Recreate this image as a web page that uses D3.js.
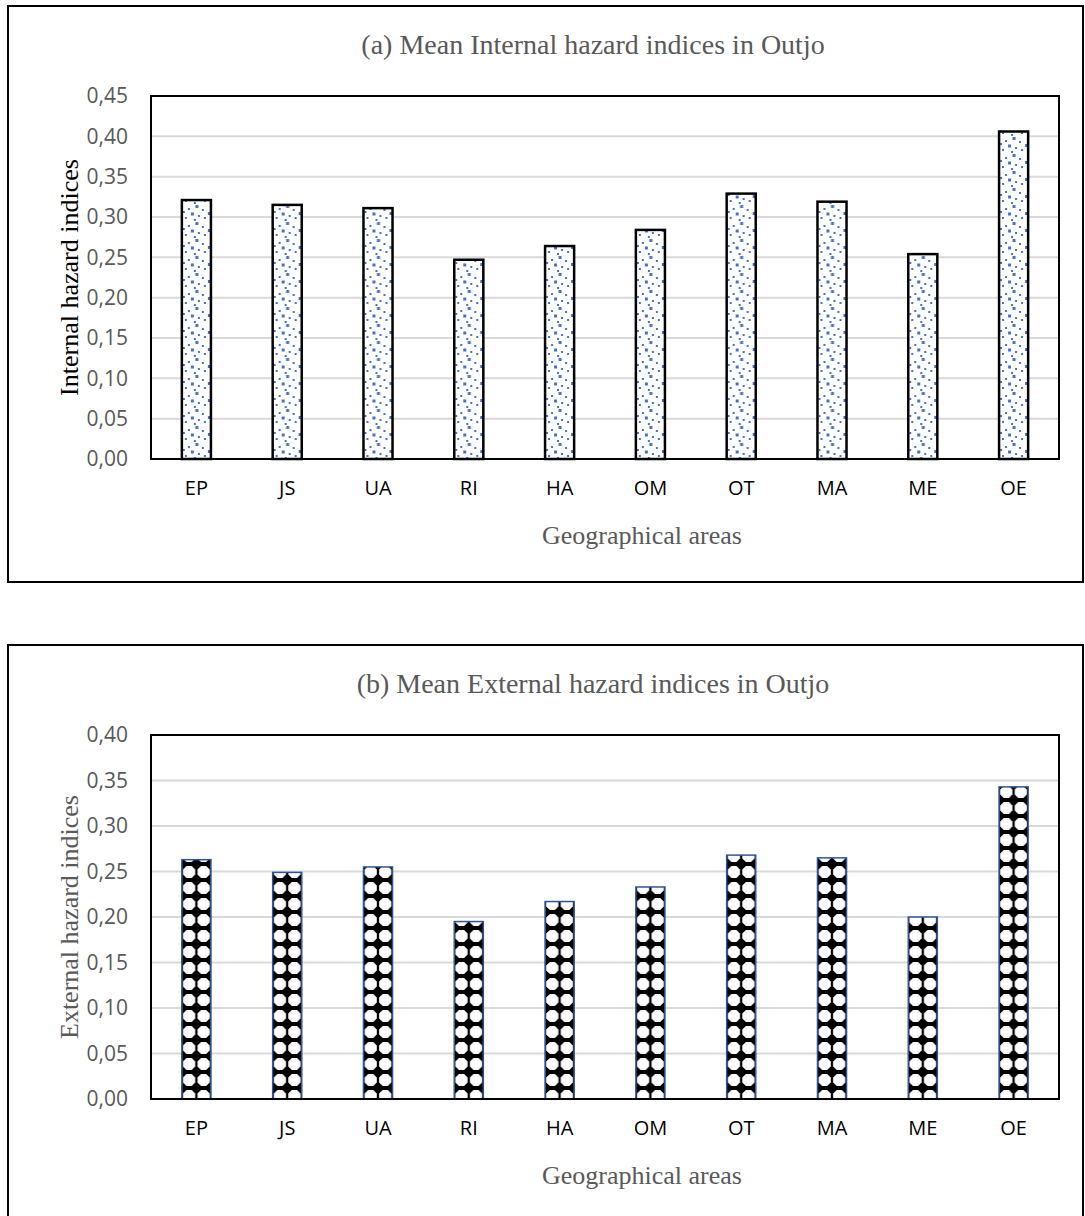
<!DOCTYPE html>
<html>
<head>
<meta charset="utf-8">
<script src="https://cdn.jsdelivr.net/npm/d3@7/dist/d3.min.js"></script>
<style>
  html, body { margin: 0; padding: 0; background: #fff; }
  svg { display: block; }
</style>
</head>
<body>
<svg id="fig" width="1085" height="1216"></svg>
<script>
// Geographical areas (shared by both panels)
const areas = ["EP", "JS", "UA", "RI", "HA", "OM", "OT", "MA", "ME", "OE"];

// Panel (a): mean internal hazard index per area
const internalValues = [0.321, 0.315, 0.311, 0.247, 0.264, 0.284, 0.329, 0.319, 0.254, 0.406];
const internalTicks = [0, 0.05, 0.10, 0.15, 0.20, 0.25, 0.30, 0.35, 0.40, 0.45];

// Panel (b): mean external hazard index per area
const externalValues = [0.263, 0.249, 0.255, 0.195, 0.217, 0.233, 0.268, 0.265, 0.200, 0.343];
const externalTicks = [0, 0.05, 0.10, 0.15, 0.20, 0.25, 0.30, 0.35, 0.40];

const svg = d3.select("#fig");
const defs = svg.append("defs");

// Blue confetti fill for internal-index bars
const confetti = defs.append("pattern")
  .attr("id", "confetti")
  .attr("patternUnits", "userSpaceOnUse")
  .attr("width", 29).attr("height", 17);
confetti.append("rect").attr("width", 29).attr("height", 17).attr("fill", "#fff");
[
  [13.5, 1, 3], [6, 4, 2], [20, 5, 2], [1, 7, 2], [9, 8.5, 3], [26, 8, 3],
  [16, 11, 2], [3, 13, 2], [22, 13, 2], [12, 15, 2]
].forEach(([x, y, s]) => {
  confetti.append("rect").attr("x", x).attr("y", y)
    .attr("width", s).attr("height", s).attr("fill", "#4472c4");
});

// Black fill with white octagonal dots for external-index bars
const dots = defs.append("pattern")
  .attr("id", "dots")
  .attr("patternUnits", "userSpaceOnUse")
  .attr("width", 14.5).attr("height", 16);
dots.append("rect").attr("width", 14.5).attr("height", 16).attr("fill", "#000");
{
  const cx = 7.25, cy = 8, r = 6.6;
  const oct = d3.range(8).map(k => {
    const a = Math.PI / 8 + k * Math.PI / 4;
    return [cx + r * Math.cos(a), cy + r * Math.sin(a)];
  });
  dots.append("path").attr("d", d3.line()(oct) + "Z").attr("fill", "#fff");
}

function panel(cfg) {
  const { top, frameBottom, plot, values, ticks, yMax, title, yTitle, yTitleColor, fill, barStroke, barStrokeWidth } = cfg;
  const g = svg.append("g");

  // outer chart frame
  g.append("rect")
    .attr("x", 8).attr("y", top)
    .attr("width", 1075).attr("height", frameBottom - top)
    .attr("fill", "none").attr("stroke", "#000").attr("stroke-width", 2);

  const x = d3.scaleBand().domain(areas).range([plot.left, plot.right]).paddingInner(0.68).paddingOuter(0.34);
  const y = d3.scaleLinear().domain([0, yMax]).range([plot.bottom, plot.top]);

  // horizontal gridlines
  g.append("g").selectAll("line").data(ticks.filter(t => t > 0 && t < yMax)).join("line")
    .attr("x1", plot.left).attr("x2", plot.right)
    .attr("y1", d => y(d)).attr("y2", d => y(d))
    .attr("stroke", "#d9d9d9").attr("stroke-width", 2);

  // bars, each in its own group so the fill tiles start at the bar edge
  const bars = g.append("g").selectAll("g").data(values).join("g")
    .attr("transform", (d, i) => `translate(${x(areas[i])},0)`);
  bars.append("rect")
    .attr("x", 0).attr("y", d => y(d))
    .attr("width", x.bandwidth()).attr("height", d => plot.bottom - y(d))
    .attr("fill", fill).attr("stroke", barStroke).attr("stroke-width", barStrokeWidth);

  // plot-area border
  g.append("rect")
    .attr("x", plot.left).attr("y", plot.top)
    .attr("width", plot.right - plot.left).attr("height", plot.bottom - plot.top)
    .attr("fill", "none").attr("stroke", "#000").attr("stroke-width", 2);

  // y axis tick labels
  const yAxis = d3.axisLeft(y).tickValues(ticks).tickSize(0).tickPadding(23)
    .tickFormat(d => d3.format(".2f")(d).replace(".", ","));
  const ya = g.append("g").attr("transform", `translate(${plot.left},0)`).call(yAxis);
  ya.select(".domain").remove();
  ya.selectAll("text").attr("font-family", "'Open Sans', sans-serif").attr("font-size", 21)
    .attr("fill", "#595959");

  // x axis category labels
  const xAxis = d3.axisBottom(x).tickSize(0).tickPadding(22);
  const xa = g.append("g").attr("transform", `translate(0,${plot.bottom})`).call(xAxis);
  xa.select(".domain").remove();
  xa.selectAll("text").attr("font-family", "'Open Sans', sans-serif").attr("font-size", 20)
    .attr("fill", "#000");

  // titles
  const serif = "'Liberation Serif', 'Times New Roman', serif";
  g.append("text").attr("x", 593).attr("y", top + 48)
    .attr("text-anchor", "middle").attr("font-family", serif).attr("font-size", 28)
    .attr("fill", "#595959").text(title);
  g.append("text").attr("x", 642).attr("y", plot.bottom + 85)
    .attr("text-anchor", "middle").attr("font-family", serif).attr("font-size", 26)
    .attr("fill", "#595959").text("Geographical areas");
  g.append("text")
    .attr("transform", `translate(78,${(plot.top + plot.bottom) / 2}) rotate(-90)`)
    .attr("text-anchor", "middle").attr("font-family", serif).attr("font-size", 26)
    .attr("fill", yTitleColor).text(yTitle);
}

panel({
  top: 6, frameBottom: 582,
  plot: { left: 151, right: 1059, top: 96, bottom: 459 },
  values: internalValues, ticks: internalTicks, yMax: 0.45,
  title: "(a) Mean Internal hazard indices in Outjo",
  yTitle: "Internal hazard indices", yTitleColor: "#000",
  fill: "url(#confetti)", barStroke: "#000", barStrokeWidth: 2.5
});

panel({
  top: 645, frameBottom: 1230,
  plot: { left: 151, right: 1059, top: 735, bottom: 1099 },
  values: externalValues, ticks: externalTicks, yMax: 0.40,
  title: "(b) Mean External hazard indices in Outjo",
  yTitle: "External hazard indices", yTitleColor: "#595959",
  fill: "url(#dots)", barStroke: "#2f5597", barStrokeWidth: 1.5
});
</script>
</body>
</html>
